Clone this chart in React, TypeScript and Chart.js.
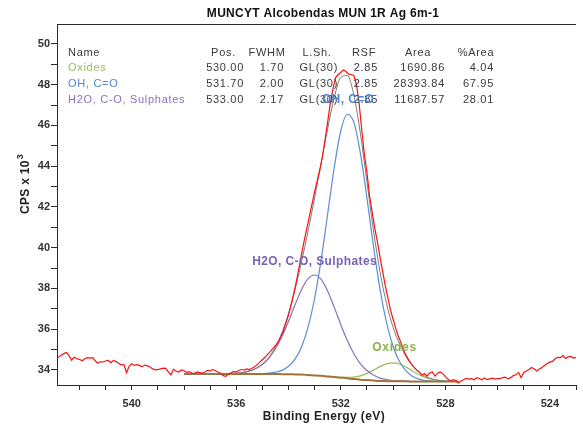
import React, { useEffect, useRef } from 'react';
import { Chart, registerables } from 'chart.js';

Chart.register(...registerables);

// ---------- text ----------
const TITLE = 'MUNCYT Alcobendas MUN 1R Ag 6m-1';
const X_TITLE = 'Binding Energy (eV)';
const Y_TITLE = 'CPS x 10';
const Y_TITLE_SUP = '3';

// ---------- axes ----------
const X_MIN = 523.0;
const X_MAX = 542.86;
const Y_MIN = 33.26;
const Y_MAX = 50.98;
const X_TICK_LABELS = [524, 528, 532, 536, 540];
const Y_TICK_LABELS = [34, 36, 38, 40, 42, 44, 46, 48, 50];

// ---------- peak table ----------
const TABLE_HEADERS = ['Name', 'Pos.', 'FWHM', 'L.Sh.', 'RSF', 'Area', '%Area'];
const COMPONENT_NAMES = ['Oxides', 'OH, C=O', 'H2O, C-O, Sulphates'];
const COMPONENT_POS = ['530.00', '531.70', '533.00'];
const COMPONENT_FWHM = ['1.70', '2.00', '2.17'];
const COMPONENT_LSH = ['GL(30)', 'GL(30)', 'GL(30)'];
const COMPONENT_RSF = ['2.85', '2.85', '2.85'];
const COMPONENT_AREA = ['1690.86', '28393.84', '11687.57'];
const COMPONENT_PCT = ['4.04', '67.95', '28.01'];

// ---------- raw spectrum (CPS x 10^3), 542.9 eV down to 523.0 eV, 0.1 eV step ----------
const RAW_START_EV = 542.9;
const RAW_STEP_EV = 0.1;
const RAW_CPS = [
  34.55, 34.62, 34.72, 34.80, 34.86, 34.70, 34.48, 34.62, 34.55, 34.52,
  34.45, 34.55, 34.60, 34.58, 34.60, 34.45, 34.34, 34.40, 34.39, 34.44,
  34.47, 34.35, 34.46, 34.41, 34.33, 34.24, 34.27, 33.86, 34.18, 34.30,
  34.22, 34.26, 34.21, 34.16, 34.24, 34.20, 34.14, 34.05, 34.00, 34.01,
  34.05, 34.09, 34.08, 33.90, 33.76, 34.03, 33.95, 33.90, 34.00, 33.96,
  33.88, 33.92, 33.85, 33.83, 33.90, 33.87, 33.84, 33.90, 33.98, 33.95,
  34.02, 33.96, 33.90, 33.84, 33.72, 33.68, 33.80, 33.86, 33.93, 33.90,
  33.97, 34.02, 33.99, 34.05, 34.02, 34.08, 34.15, 34.25, 34.38, 34.50,
  34.62, 34.76, 34.90, 35.05, 35.20, 35.38, 35.62, 35.90, 36.30, 36.70,
  37.20, 37.75, 38.35, 39.00, 39.70, 40.35, 40.95, 41.55, 42.15, 42.75,
  43.30, 43.85, 44.50, 45.30, 46.20, 47.10, 47.80, 48.35, 48.50, 48.60,
  48.72, 48.65, 48.52, 48.50, 48.45, 48.00, 47.10, 45.80, 44.60, 43.70,
  42.55, 41.75, 40.95, 40.30, 39.55, 38.85, 38.15, 37.55, 36.95, 36.50,
  36.05, 35.65, 35.35, 34.98, 34.70, 34.48, 34.30, 34.14, 34.00, 33.90,
  33.74, 33.82, 33.70, 33.86, 33.90, 33.70, 33.84, 33.90, 33.82, 33.68,
  33.55, 33.45, 33.52, 33.48, 33.36, 33.46, 33.52, 33.58, 33.55, 33.57,
  33.52, 33.62, 33.58, 33.52, 33.60, 33.52, 33.56, 33.60, 33.55, 33.58,
  33.57, 33.62, 33.65, 33.56, 33.62, 33.72, 33.76, 33.88, 33.62, 33.88,
  33.95, 34.02, 34.12, 34.05, 33.95, 34.05, 34.12, 34.22, 34.32, 34.38,
  34.42, 34.55, 34.62, 34.60, 34.70, 34.56, 34.64, 34.66, 34.58, 34.60,
];

// ---------- fitted curves (CPS x 10^3), 538.0 eV down to 527.5 eV, 0.25 eV step ----------
const FIT_START_EV = 538.0;
const FIT_STEP_EV = 0.25;
const BACKGROUND = [
  33.80, 33.80, 33.80, 33.80, 33.80, 33.80, 33.80, 33.80, 33.80, 33.80,
  33.80, 33.80, 33.80, 33.80, 33.80, 33.79, 33.79, 33.78, 33.77, 33.75,
  33.73, 33.71, 33.68, 33.65, 33.62, 33.59, 33.55, 33.52, 33.50, 33.48,
  33.46, 33.45, 33.44, 33.44, 33.44, 33.43, 33.43, 33.43, 33.43, 33.43,
  33.43, 33.43, 33.43,
];
const OH_CO = [
  null, null, null, null, null, null, null, null, null, null,
  33.80, 33.81, 33.82, 33.84, 33.89, 33.98, 34.18, 34.53, 35.14, 36.11,
  37.53, 39.43, 41.68, 43.94, 45.74, 46.55, 46.15, 44.63, 42.44, 40.08,
  37.97, 36.33, 35.15, 34.40, 33.95, 33.68, 33.55, 33.48, 33.45, 33.44,
  33.43, null, null,
];
const H2O_CO_SULPHATES = [
  null, null, 33.80, 33.80, 33.80, 33.80, 33.81, 33.82, 33.84, 33.87,
  33.94, 34.07, 34.27, 34.58, 35.04, 35.64, 36.39, 37.20, 37.95, 38.48,
  38.66, 38.44, 37.86, 37.07, 36.22, 35.44, 34.79, 34.30, 33.97, 33.75,
  33.60, 33.52, 33.48, 33.46, 33.45, 33.43, 33.43, null, null, null,
  null, null, null,
];
const OXIDES = [
  null, null, null, null, null, null, null, null, null, null,
  null, null, null, null, null, null, null, null, null, null,
  null, null, 33.68, 33.66, 33.64, 33.64, 33.65, 33.71, 33.83, 33.99,
  34.16, 34.30, 34.35, 34.29, 34.14, 33.94, 33.76, 33.62, 33.53, 33.48,
  33.45, 33.44, 33.43,
];
const ENVELOPE = [
  33.80, 33.80, 33.80, 33.80, 33.80, 33.80, 33.81, 33.82, 33.84, 33.87,
  33.95, 34.07, 34.29, 34.62, 35.13, 35.83, 36.78, 37.95, 39.32, 40.83,
  42.46, 44.16, 45.86, 47.37, 48.36, 48.45, 47.49, 45.61, 43.23, 40.85,
  38.82, 37.25, 36.10, 35.27, 34.65, 34.19, 33.88, 33.68, 33.56, 33.49,
  33.46, 33.44, 33.43,
];

// ---------- styling ----------
const FONT = "'Liberation Sans', Arial, sans-serif";
const AXIS_COLOR = '#2b2b2b';
const TEXT_COLOR = '#333333';
const RAW_COLOR = '#ff1010';
const ENVELOPE_COLOR = '#7c7c7c';
const BG_COLOR = '#a27339';
const OH_COLOR = '#5b8ed6';
const H2O_COLOR = '#8a70bd';
const OXIDES_COLOR = '#9bbb59';
const OH_TEXT = '#4f86d2';
const H2O_TEXT = '#7a62b3';
const OXIDES_TEXT = '#8db048';
const NAME_COLORS = [OXIDES_COLOR, OH_TEXT, H2O_COLOR];

const toPoints = (start: number, step: number, values: (number | null)[]) =>
  values.map((v, i) => ({ x: Math.round((start - i * step) * 100) / 100, y: v }));

const textPlugin = {
  id: 'xpsText',
  afterDraw(chart: any) {
    const ctx: CanvasRenderingContext2D = chart.ctx;
    const { left, right, top } = chart.chartArea;
    const xs = chart.scales.x;
    const ys = chart.scales.y;
    ctx.save();
    // top frame line
    ctx.strokeStyle = AXIS_COLOR;
    ctx.lineWidth = 1;
    ctx.beginPath();
    ctx.moveTo(left, top + 0.5);
    ctx.lineTo(right, top + 0.5);
    ctx.stroke();

    // title
    (ctx as any).letterSpacing = '0.3px';
    ctx.fillStyle = '#111111';
    ctx.font = `bold 12px ${FONT}`;
    ctx.textAlign = 'center';
    ctx.textBaseline = 'middle';
    ctx.fillText(TITLE, 323, 14);

    // x title
    (ctx as any).letterSpacing = '0.4px';
    ctx.fillStyle = '#222222';
    ctx.fillText(X_TITLE, 324, 417);

    // y title (rotated)
    (ctx as any).letterSpacing = '0.3px';
    ctx.save();
    ctx.translate(26, 184);
    ctx.rotate(-Math.PI / 2);
    ctx.font = `bold 12px ${FONT}`;
    const w1 = ctx.measureText(Y_TITLE).width;
    ctx.font = `bold 9px ${FONT}`;
    const w2 = ctx.measureText(Y_TITLE_SUP).width;
    const start = -(w1 + w2 + 1) / 2;
    ctx.textAlign = 'left';
    ctx.font = `bold 12px ${FONT}`;
    ctx.fillText(Y_TITLE, start, 0);
    ctx.font = `bold 9px ${FONT}`;
    ctx.fillText(Y_TITLE_SUP, start + w1 + 1, -5);
    ctx.restore();

    // table
    (ctx as any).letterSpacing = '0.7px';
    ctx.font = `11px ${FONT}`;
    const rowY = [52.5, 68, 84, 99.5];
    const nameX = 68;
    const headerCenters = [0, 223.5, 267, 317, 364, 418, 476];
    const valueRights = [0, 244, 284, 338, 378, 445, 494];
    ctx.fillStyle = '#3a3a3a';
    ctx.textAlign = 'left';
    ctx.fillText(TABLE_HEADERS[0], nameX, rowY[0]);
    ctx.textAlign = 'center';
    for (let c = 1; c < TABLE_HEADERS.length; c++) ctx.fillText(TABLE_HEADERS[c], headerCenters[c], rowY[0]);
    const cols = [COMPONENT_POS, COMPONENT_FWHM, COMPONENT_LSH, COMPONENT_RSF, COMPONENT_AREA, COMPONENT_PCT];
    for (let r = 0; r < COMPONENT_NAMES.length; r++) {
      ctx.textAlign = 'left';
      ctx.fillStyle = NAME_COLORS[r];
      ctx.fillText(COMPONENT_NAMES[r], nameX, rowY[r + 1]);
      ctx.fillStyle = '#3a3a3a';
      ctx.textAlign = 'right';
      cols.forEach((col, c) => ctx.fillText(col[r], valueRights[c + 1], rowY[r + 1]));
    }

    // peak labels
    ctx.font = `bold 12px ${FONT}`;
    ctx.textAlign = 'center';
    (ctx as any).letterSpacing = '0.4px';
    ctx.fillStyle = H2O_TEXT;
    ctx.fillText(COMPONENT_NAMES[2], xs.getPixelForValue(533.0), ys.getPixelForValue(39.3));
    ctx.fillStyle = OH_TEXT;
    ctx.fillText(COMPONENT_NAMES[1], xs.getPixelForValue(531.72), ys.getPixelForValue(47.25));
    (ctx as any).letterSpacing = '0.8px';
    ctx.fillStyle = OXIDES_TEXT;
    ctx.fillText(COMPONENT_NAMES[0], xs.getPixelForValue(529.94), ys.getPixelForValue(35.07));
    (ctx as any).letterSpacing = '0px';
    ctx.restore();
  },
};

const isInt = (v: number) => Math.abs(v - Math.round(v)) < 1e-6;

export default function App() {
  const canvasRef = useRef<HTMLCanvasElement | null>(null);

  useEffect(() => {
    const canvas = canvasRef.current;
    if (!canvas) return;
    Chart.defaults.font.family = FONT;
    const line = (label: string, data: any[], color: string, width: number, smooth: boolean) => ({
      label,
      data,
      borderColor: color,
      backgroundColor: color,
      borderWidth: width,
      pointRadius: 0,
      fill: false,
      spanGaps: false,
      tension: smooth ? 0.4 : 0,
      cubicInterpolationMode: smooth ? 'monotone' : 'default',
    });
    const chart = new Chart(canvas, {
      type: 'line',
      data: {
        datasets: [
          line('Raw', toPoints(RAW_START_EV, RAW_STEP_EV, RAW_CPS), RAW_COLOR, 1.2, false),
          line('Envelope', toPoints(FIT_START_EV, FIT_STEP_EV, ENVELOPE), ENVELOPE_COLOR, 1, true),
          line('Background', toPoints(FIT_START_EV, FIT_STEP_EV, BACKGROUND), BG_COLOR, 2, true),
          line(COMPONENT_NAMES[1], toPoints(FIT_START_EV, FIT_STEP_EV, OH_CO), OH_COLOR, 1.2, true),
          line(COMPONENT_NAMES[2], toPoints(FIT_START_EV, FIT_STEP_EV, H2O_CO_SULPHATES), H2O_COLOR, 1.2, true),
          line(COMPONENT_NAMES[0], toPoints(FIT_START_EV, FIT_STEP_EV, OXIDES), OXIDES_COLOR, 1.2, true),
        ] as any,
      },
      options: {
        animation: false,
        responsive: false,
        devicePixelRatio: 1,
        events: [],
        parsing: false as any,
        normalized: true,
        layout: { padding: { top: 24, left: 0, right: 0, bottom: 0 } },
        plugins: {
          legend: { display: false },
          tooltip: { enabled: false },
          title: { display: false },
        },
        scales: {
          x: {
            type: 'linear',
            reverse: true,
            min: X_MIN,
            max: X_MAX,
            afterFit: (s: any) => { s.height = 41; },
            border: { display: true, color: AXIS_COLOR, width: 1 },
            grid: { display: true, drawOnChartArea: false, drawTicks: true, tickLength: 5, color: AXIS_COLOR, tickColor: AXIS_COLOR },
            ticks: {
              stepSize: 1,
              autoSkip: false,
              maxRotation: 0,
              includeBounds: false,
              padding: 7,
              color: TEXT_COLOR,
              font: { family: FONT, size: 11, weight: 'bold' },
              callback: (v: any) => (isInt(v) && X_TICK_LABELS.includes(Math.round(v)) ? String(Math.round(v)) : ''),
            },
          },
          y: {
            type: 'linear',
            min: Y_MIN,
            max: Y_MAX,
            afterFit: (s: any) => { s.width = 57; },
            border: { display: true, color: AXIS_COLOR, width: 1 },
            grid: { display: true, drawOnChartArea: false, drawTicks: true, tickLength: 6, color: AXIS_COLOR, tickColor: AXIS_COLOR },
            ticks: {
              stepSize: 1,
              autoSkip: false,
              includeBounds: false,
              padding: 1,
              color: TEXT_COLOR,
              font: { family: FONT, size: 11, weight: 'bold' },
              callback: (v: any) => (isInt(v) && Y_TICK_LABELS.includes(Math.round(v)) ? String(Math.round(v)) : ''),
            },
          },
        },
      } as any,
      plugins: [textPlugin],
    });
    return () => chart.destroy();
  }, []);

  return (
    <div style={{ position: 'fixed', left: 0, top: 0, width: 583, height: 426, background: '#ffffff' }}>
      <canvas ref={canvasRef} width={583} height={426} style={{ display: 'block' }} />
    </div>
  );
}
